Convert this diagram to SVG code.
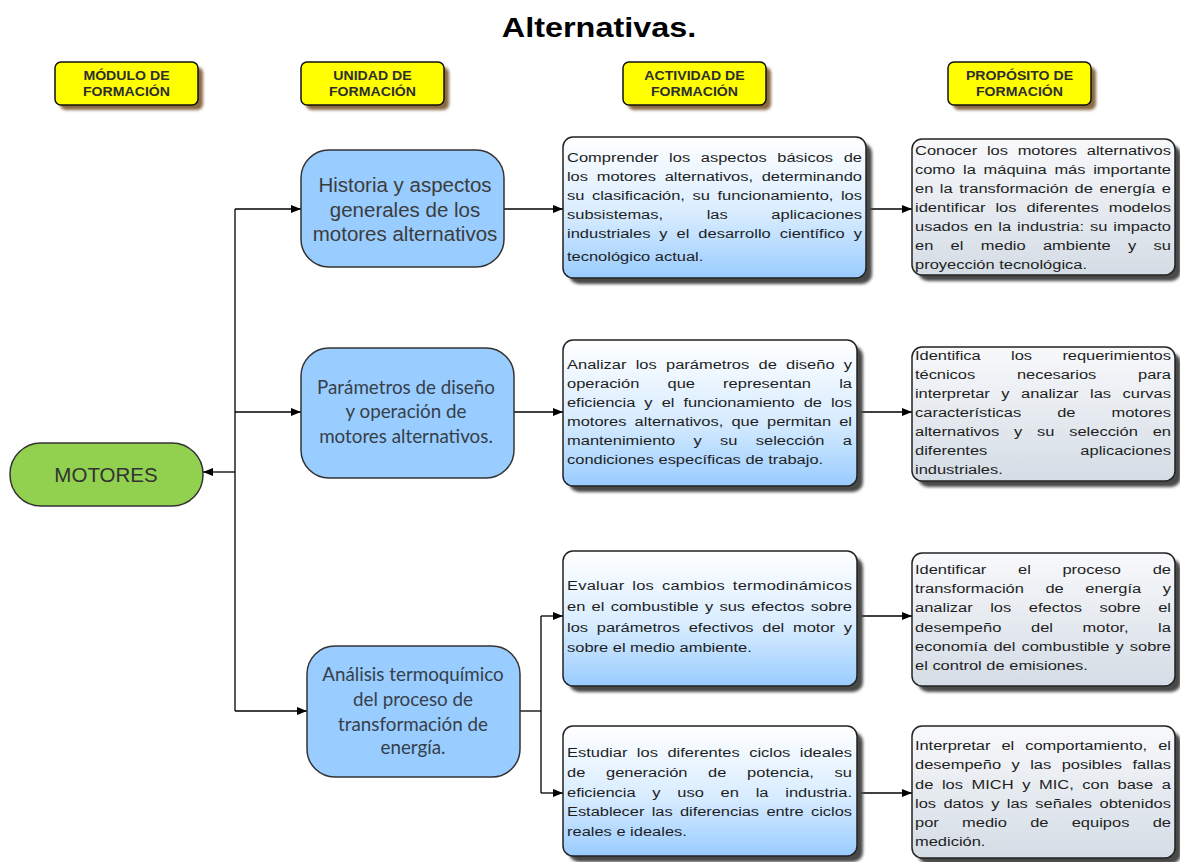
<svg xmlns="http://www.w3.org/2000/svg" width="1180" height="862" viewBox="0 0 1180 862">
  <style>
    .hdbox { fill: #ffff00; stroke: #111; stroke-width: 1.5; }
    .hdsh { fill: #8a6942; filter: url(#soft); }
    .hd { font-family: "Liberation Sans", Arial, sans-serif; font-weight: bold; font-size: 12.5px; fill: #2e2e2e; text-anchor: middle; }
    .unit { fill: #99ccff; stroke: #333; stroke-width: 1.5; }
    .ut1 { font-family: "Liberation Sans", Arial, sans-serif; font-size: 20.5px; fill: #3c3c3c; text-anchor: middle; }
    .ut2 { font-family: Lato, "Open Sans", sans-serif; font-size: 18.8px; fill: #36404a; text-anchor: middle; }
    .act { fill: url(#gA); stroke: #222; stroke-width: 1.5; }
    .pur { fill: url(#gP); stroke: #222; stroke-width: 1.5; }
    .sh { fill: #4a4a4a; filter: url(#soft); }
    .b { font-family: "Liberation Sans", Arial, sans-serif; font-size: 13.5px; fill: #1e1e1e; }
    .conn path { fill: none; stroke: #000; stroke-width: 1.3; }
  </style>
  <defs>
    <linearGradient id="gA" x1="0" y1="0" x2="0" y2="1">
      <stop offset="0" stop-color="#ffffff"/>
      <stop offset="0.55" stop-color="#d8ecff"/>
      <stop offset="1" stop-color="#99ccff"/>
    </linearGradient>
    <linearGradient id="gP" x1="0" y1="0" x2="0" y2="1">
      <stop offset="0" stop-color="#f8f9fb"/>
      <stop offset="1" stop-color="#d4dce5"/>
    </linearGradient>
    <filter id="soft" x="-10%" y="-10%" width="130%" height="130%">
      <feGaussianBlur stdDeviation="1.5"/>
    </filter>
    <marker id="arr" markerUnits="userSpaceOnUse" markerWidth="10" markerHeight="8" refX="10" refY="4" orient="auto">
      <path d="M0,0 L10,4 L0,8 z" fill="#000"/>
    </marker>
  </defs>

  <rect width="1180" height="862" fill="#fff"/>

  <!-- title -->
  <text transform="translate(599,37) scale(1.2,1)" x="0" y="0" text-anchor="middle" font-family="Liberation Sans, Arial, sans-serif" font-weight="bold" font-size="27" fill="#000">Alternativas.</text>

  <!-- column headers -->
  <g id="hdr-modulo">
    <rect class="hdsh" x="60" y="67" width="143" height="43" rx="6"/>
    <rect class="hdbox" x="55" y="62" width="143" height="43" rx="6"/>
    <text class="hd" transform="translate(126.5,0) scale(1.13,1)" x="0" y="80">MÓDULO DE</text>
    <text class="hd" transform="translate(126.5,0) scale(1.13,1)" x="0" y="96">FORMACIÓN</text>
  </g>
  <g id="hdr-unidad">
    <rect class="hdsh" x="306" y="67" width="143" height="43" rx="6"/>
    <rect class="hdbox" x="301" y="62" width="143" height="43" rx="6"/>
    <text class="hd" transform="translate(372.5,0) scale(1.13,1)" x="0" y="80">UNIDAD DE</text>
    <text class="hd" transform="translate(372.5,0) scale(1.13,1)" x="0" y="96">FORMACIÓN</text>
  </g>
  <g id="hdr-actividad">
    <rect class="hdsh" x="628" y="67" width="143" height="43" rx="6"/>
    <rect class="hdbox" x="623" y="62" width="143" height="43" rx="6"/>
    <text class="hd" transform="translate(694.5,0) scale(1.13,1)" x="0" y="80">ACTIVIDAD DE</text>
    <text class="hd" transform="translate(694.5,0) scale(1.13,1)" x="0" y="96">FORMACIÓN</text>
  </g>
  <g id="hdr-proposito">
    <rect class="hdsh" x="953" y="67" width="143" height="43" rx="6"/>
    <rect class="hdbox" x="948" y="62" width="143" height="43" rx="6"/>
    <text class="hd" transform="translate(1019.5,0) scale(1.13,1)" x="0" y="80">PROPÓSITO DE</text>
    <text class="hd" transform="translate(1019.5,0) scale(1.13,1)" x="0" y="96">FORMACIÓN</text>
  </g>

  <!-- connectors -->
  <g id="connectors" class="conn">
    <path d="M235,209 V711"/>
    <path d="M235,472 H203" marker-end="url(#arr)"/>
    <path d="M235,209 H301" marker-end="url(#arr)"/>
    <path d="M235,412 H301" marker-end="url(#arr)"/>
    <path d="M235,711 H307" marker-end="url(#arr)"/>
    <path d="M504,209 H563" marker-end="url(#arr)"/>
    <path d="M514,412 H563" marker-end="url(#arr)"/>
    <path d="M520,711 H541"/>
    <path d="M541,616 V793"/>
    <path d="M541,616 H563" marker-end="url(#arr)"/>
    <path d="M541,793 H563" marker-end="url(#arr)"/>
    <path d="M866,209 H912" marker-end="url(#arr)"/>
    <path d="M857,412 H912" marker-end="url(#arr)"/>
    <path d="M857,616 H912" marker-end="url(#arr)"/>
    <path d="M857,793 H912" marker-end="url(#arr)"/>
  </g>

  <!-- root node -->
  <g id="motores">
    <rect x="10" y="443" width="193" height="63" rx="31" fill="#92d050" stroke="#333" stroke-width="1.5"/>
    <text x="106" y="482" text-anchor="middle" font-family="Liberation Sans, Arial, sans-serif" font-size="20.5" fill="#333">MOTORES</text>
  </g>

  <!-- formation units -->
  <g id="unidad-1">
    <rect class="unit" x="301" y="150" width="203" height="117" rx="28"/>
    <text class="ut1" x="405" y="192">Historia y aspectos</text>
    <text class="ut1" x="405" y="217">generales de los</text>
    <text class="ut1" x="405" y="241">motores alternativos</text>
  </g>
  <g id="unidad-2">
    <rect class="unit" x="301" y="348" width="213" height="130" rx="28"/>
    <text class="ut2" x="406" y="394">Parámetros de diseño</text>
    <text class="ut2" x="406" y="418">y operación de</text>
    <text class="ut2" x="406" y="443">motores alternativos.</text>
  </g>
  <g id="unidad-3">
    <rect class="unit" x="307" y="646" width="213" height="131" rx="28"/>
    <text class="ut2" x="413" y="681">Análisis termoquímico</text>
    <text class="ut2" x="413" y="706">del proceso de</text>
    <text class="ut2" x="413" y="731">transformación de</text>
    <text class="ut2" x="413" y="754">energía.</text>
  </g>

  <!-- activities -->
  <g id="actividad-1">
    <rect class="sh" x="569" y="143" width="303" height="141" rx="10"/>
    <rect class="act" x="563" y="137" width="303" height="141" rx="10"/>
    <g transform="translate(567,0) scale(1.22,1)">
      <text class="b" x="0" y="162" word-spacing="4.9" textLength="241.8" lengthAdjust="spacing">Comprender los aspectos básicos de</text>
      <text class="b" x="0" y="181" word-spacing="3.5" textLength="241.8" lengthAdjust="spacing">los motores alternativos, determinando</text>
      <text class="b" x="0" y="200" word-spacing="2.5" textLength="241.8" lengthAdjust="spacing">su clasificación, su funcionamiento, los</text>
      <text class="b" x="0" y="219" word-spacing="32" textLength="241.8" lengthAdjust="spacing">subsistemas, las aplicaciones</text>
      <text class="b" x="0" y="238" word-spacing="3.6" textLength="241.8" lengthAdjust="spacing">industriales y el desarrollo científico y</text>
      <text class="b" x="0" y="261">tecnológico actual.</text>
    </g>
  </g>
  <g id="actividad-2">
    <rect class="sh" x="569" y="346" width="294" height="146" rx="10"/>
    <rect class="act" x="563" y="340" width="294" height="146" rx="10"/>
    <g transform="translate(567,0) scale(1.22,1)">
      <text class="b" x="0" y="369" word-spacing="3.8" textLength="233.6" lengthAdjust="spacing">Analizar los parámetros de diseño y</text>
      <text class="b" x="0" y="388" word-spacing="19.3" textLength="233.6" lengthAdjust="spacing">operación que representan la</text>
      <text class="b" x="0" y="407" word-spacing="3.7" textLength="233.6" lengthAdjust="spacing">eficiencia y el funcionamiento de los</text>
      <text class="b" x="0" y="426" word-spacing="2.9" textLength="233.6" lengthAdjust="spacing">motores alternativos, que permitan el</text>
      <text class="b" x="0" y="445" word-spacing="11.3" textLength="233.6" lengthAdjust="spacing">mantenimiento y su selección a</text>
      <text class="b" x="0" y="464">condiciones específicas de trabajo.</text>
    </g>
  </g>
  <g id="actividad-3">
    <rect class="sh" x="569" y="557" width="294" height="135" rx="10"/>
    <rect class="act" x="563" y="551" width="294" height="135" rx="10"/>
    <g transform="translate(567,0) scale(1.22,1)">
      <text class="b" x="0" y="590" word-spacing="2.6" textLength="233.6" lengthAdjust="spacing">Evaluar los cambios termodinámicos</text>
      <text class="b" x="0" y="611" word-spacing="1.4" textLength="233.6" lengthAdjust="spacing">en el combustible y sus efectos sobre</text>
      <text class="b" x="0" y="632" word-spacing="3.4" textLength="233.6" lengthAdjust="spacing">los parámetros efectivos del motor y</text>
      <text class="b" x="0" y="652">sobre el medio ambiente.</text>
    </g>
  </g>
  <g id="actividad-4">
    <rect class="sh" x="569" y="732" width="294" height="130" rx="10"/>
    <rect class="act" x="563" y="726" width="294" height="130" rx="10"/>
    <g transform="translate(567,0) scale(1.22,1)">
      <text class="b" x="0" y="757" word-spacing="4" textLength="233.6" lengthAdjust="spacing">Estudiar los diferentes ciclos ideales</text>
      <text class="b" x="0" y="777" word-spacing="13.2" textLength="233.6" lengthAdjust="spacing">de generación de potencia, su</text>
      <text class="b" x="0" y="797" word-spacing="10" textLength="233.6" lengthAdjust="spacing">eficiencia y uso en la industria.</text>
      <text class="b" x="0" y="816" word-spacing="2.3" textLength="233.6" lengthAdjust="spacing">Establecer las diferencias entre ciclos</text>
      <text class="b" x="0" y="836">reales e ideales.</text>
    </g>
  </g>

  <!-- purposes -->
  <g id="proposito-1">
    <rect class="sh" x="918" y="145" width="263" height="136" rx="10"/>
    <rect class="pur" x="912" y="139" width="263" height="136" rx="10"/>
    <g transform="translate(915,0) scale(1.22,1)">
      <text class="b" x="0" y="155" word-spacing="4.2" textLength="209.8" lengthAdjust="spacing">Conocer los motores alternativos</text>
      <text class="b" x="0" y="174" word-spacing="2.6" textLength="209.8" lengthAdjust="spacing">como la máquina más importante</text>
      <text class="b" x="0" y="193" word-spacing="1.6" textLength="209.8" lengthAdjust="spacing">en la transformación de energía e</text>
      <text class="b" x="0" y="212" word-spacing="4.4" textLength="209.8" lengthAdjust="spacing">identificar los diferentes modelos</text>
      <text class="b" x="0" y="231" word-spacing="1.1" textLength="209.8" lengthAdjust="spacing">usados en la industria: su impacto</text>
      <text class="b" x="0" y="250" word-spacing="10.4" textLength="209.8" lengthAdjust="spacing">en el medio ambiente y su</text>
      <text class="b" x="0" y="269">proyección tecnológica.</text>
    </g>
  </g>
  <g id="proposito-2">
    <rect class="sh" x="918" y="353" width="263" height="134" rx="10"/>
    <rect class="pur" x="912" y="347" width="263" height="134" rx="10"/>
    <g transform="translate(915,0) scale(1.22,1)">
      <text class="b" x="0" y="360" word-spacing="21.2" textLength="209.8" lengthAdjust="spacing">Identifica los requerimientos</text>
      <text class="b" x="0" y="379" word-spacing="30.6" textLength="209.8" lengthAdjust="spacing">técnicos necesarios para</text>
      <text class="b" x="0" y="398" word-spacing="5.75" textLength="209.8" lengthAdjust="spacing">interpretar y analizar las curvas</text>
      <text class="b" x="0" y="417" word-spacing="25.7" textLength="209.8" lengthAdjust="spacing">características de motores</text>
      <text class="b" x="0" y="436" word-spacing="8.4" textLength="209.8" lengthAdjust="spacing">alternativos y su selección en</text>
      <text class="b" x="0" y="455" word-spacing="72.5" textLength="209.8" lengthAdjust="spacing">diferentes aplicaciones</text>
      <text class="b" x="0" y="474">industriales.</text>
    </g>
  </g>
  <g id="proposito-3">
    <rect class="sh" x="918" y="559" width="263" height="133" rx="10"/>
    <rect class="pur" x="912" y="553" width="263" height="133" rx="10"/>
    <g transform="translate(915,0) scale(1.22,1)">
      <text class="b" x="0" y="574" word-spacing="22.2" textLength="209.8" lengthAdjust="spacing">Identificar el proceso de</text>
      <text class="b" x="0" y="593" word-spacing="13.9" textLength="209.8" lengthAdjust="spacing">transformación de energía y</text>
      <text class="b" x="0" y="612" word-spacing="10.6" textLength="209.8" lengthAdjust="spacing">analizar los efectos sobre el</text>
      <text class="b" x="0" y="632" word-spacing="20.4" textLength="209.8" lengthAdjust="spacing">desempeño del motor, la</text>
      <text class="b" x="0" y="651" word-spacing="1.25" textLength="209.8" lengthAdjust="spacing">economía del combustible y sobre</text>
      <text class="b" x="0" y="670">el control de emisiones.</text>
    </g>
  </g>
  <g id="proposito-4">
    <rect class="sh" x="918" y="732" width="263" height="132" rx="10"/>
    <rect class="pur" x="912" y="726" width="263" height="132" rx="10"/>
    <g transform="translate(915,0) scale(1.22,1)">
      <text class="b" x="0" y="750" word-spacing="5.4" textLength="209.8" lengthAdjust="spacing">Interpretar el comportamiento, el</text>
      <text class="b" x="0" y="769" word-spacing="4.8" textLength="209.8" lengthAdjust="spacing">desempeño y las posibles fallas</text>
      <text class="b" x="0" y="789" word-spacing="3.3" textLength="209.8" lengthAdjust="spacing">de los MICH y MIC, con base a</text>
      <text class="b" x="0" y="808" word-spacing="2.3" textLength="209.8" lengthAdjust="spacing">los datos y las señales obtenidos</text>
      <text class="b" x="0" y="827" word-spacing="15.3" textLength="209.8" lengthAdjust="spacing">por medio de equipos de</text>
      <text class="b" x="0" y="846">medición.</text>
    </g>
  </g>
</svg>
